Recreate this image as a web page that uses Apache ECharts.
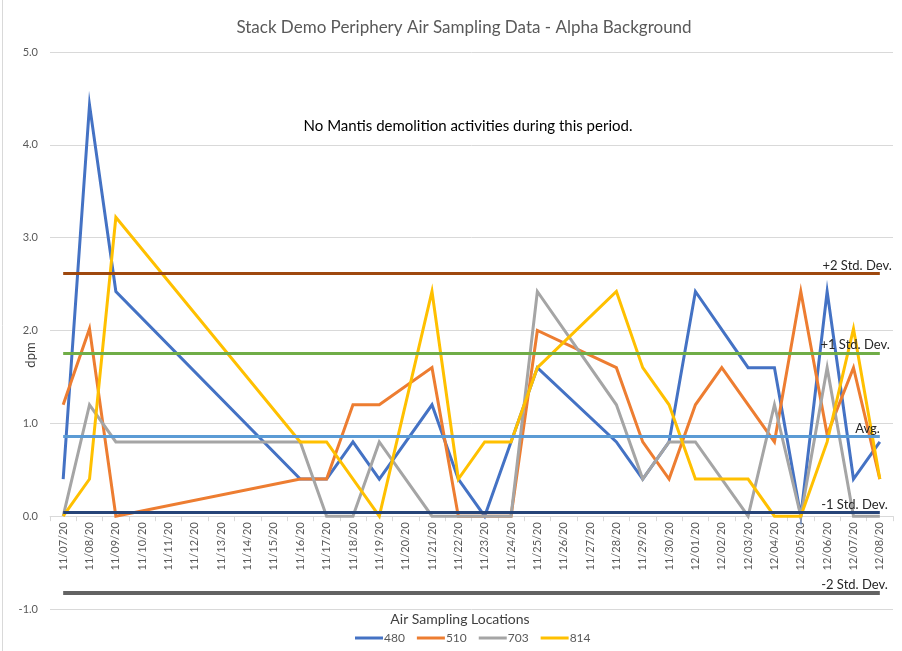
<!DOCTYPE html>
<html>
<head>
<meta charset="utf-8">
<script src="https://cdn.jsdelivr.net/npm/echarts@6/dist/echarts.min.js"></script>
<style>
html,body{margin:0;padding:0;background:#fff;}
#c{width:902px;height:651px;}
</style>
</head>
<body>
<div id="c"></div>
<script>
const categories = ['11/07/20','11/08/20','11/09/20','11/10/20','11/11/20','11/12/20','11/13/20','11/14/20','11/15/20','11/16/20','11/17/20','11/18/20','11/19/20','11/20/20','11/21/20','11/22/20','11/23/20','11/24/20','11/25/20','11/26/20','11/27/20','11/28/20','11/29/20','11/30/20','12/01/20','12/02/20','12/03/20','12/04/20','12/05/20','12/06/20','12/07/20','12/08/20'];
const s480 = [0.4,4.43,2.42,null,null,null,null,null,null,0.4,0.4,0.8,0.4,null,1.2,0.4,0.0,0.8,1.6,null,null,0.8,0.4,0.8,2.42,null,1.6,1.6,0.0,2.42,0.4,0.8];
const s510 = [1.2,2.02,0.0,null,null,null,null,null,null,0.4,0.4,1.2,1.2,null,1.6,0.0,0.0,0.0,2.0,null,null,1.6,0.8,0.4,1.2,1.6,null,0.8,2.42,0.88,1.6,0.4];
const s703 = [0.0,1.2,0.8,null,null,null,null,null,null,0.8,0.0,0.0,0.8,null,0.0,0.0,0.0,0.0,2.42,null,null,1.2,0.4,0.8,0.8,null,0.0,1.2,0.0,1.6,0.0,0.0];
const s814 = [0.0,0.4,3.22,null,null,null,null,null,null,0.8,0.8,null,0.0,null,2.42,0.4,0.8,0.8,1.6,null,null,2.42,1.6,1.2,0.4,0.4,0.4,0.0,0.0,0.8,2.02,0.4];
const seriesNames = ['480','510','703','814'];
const refNames = ['+2 Std. Dev.','+1 Std. Dev.','Avg.','-1 Std. Dev.','-2 Std. Dev.'];
const refValues = [2.62, 1.76, 0.86, 0.04, -0.82];
const yTicks = [-1, 0, 1, 2, 3, 4, 5];

const colors = ['#4472C4','#ED7D31','#A5A5A5','#FFC000'];
const refColors = ['#9E480E','#70AD47','#5B9BD5','#264478','#636363'];
const refWidths = [3,3,3,3,4];
const refLabelDx = [-12,-10,0,-8,-8];
const FONT = 'Lato, "Open Sans", sans-serif';

const GRID_TOP = 52, GRID_BOTTOM = 42, H = 651;
const plotH = H - GRID_TOP - GRID_BOTTOM;
const yMin = yTicks[0], yMax = yTicks[yTicks.length - 1];
const zeroOffset = -plotH * (0 - yMin) / (yMax - yMin);

const dataSets = [s480, s510, s703, s814];
const series = dataSets.map((d, i) => ({
  name: seriesNames[i],
  type: 'line',
  data: d,
  connectNulls: true,
  showSymbol: false,
  symbol: 'none',
  lineStyle: {color: colors[i], width: 3, join: 'miter'},
  itemStyle: {color: colors[i]},
  z: 2
}));

refNames.forEach((n, i) => {
  series.push({
    name: n,
    type: 'line',
    data: [],
    z: 3,
    markLine: {
      silent: true,
      symbol: 'none',
      animation: false,
      lineStyle: {color: refColors[i], width: refWidths[i], type: 'solid'},
      label: {
        show: true,
        position: 'insideEndTop',
        formatter: n,
        color: '#262626',
        fontFamily: FONT,
        fontSize: 13,
        distance: [refLabelDx[i], 1]
      },
      data: [[
        {coord: [categories[0], refValues[i]]},
        {coord: [categories[categories.length - 1], refValues[i]]}
      ]]
    }
  });
});

const chart = echarts.init(document.getElementById('c'));
chart.setOption({
  animation: false,
  backgroundColor: '#fff',
  textStyle: {fontFamily: FONT},
  title: [
    {text: 'Stack Demo Periphery Air Sampling Data - Alpha Background', left: 459, top: 14, textAlign: 'center',
     textStyle: {fontFamily: FONT, fontSize: 17, fontWeight: 'normal', color: '#595959'}},
    {text: 'No Mantis demolition activities during this period.', left: 463, top: 114, textAlign: 'center',
     textStyle: {fontFamily: FONT, fontSize: 15, fontWeight: 'normal', color: '#000'}},
    {text: 'Air Sampling Locations', left: 455, top: 607, textAlign: 'center',
     textStyle: {fontFamily: FONT, fontSize: 14, fontWeight: 'normal', color: '#404040'}}
  ],
  graphic: [
    {type: 'text', x: 31, y: 355, rotation: Math.PI / 2,
     style: {text: 'dpm', fontFamily: FONT, fontSize: 13, fill: '#404040', align: 'center', verticalAlign: 'middle'}},
    {type: 'line', shape: {x1: 2.5, y1: 0, x2: 2.5, y2: 651}, style: {stroke: '#d9d9d9', lineWidth: 1}}
  ],
  legend: {
    data: seriesNames,
    top: 627,
    left: 350,
    icon: 'rect',
    itemWidth: 28,
    itemHeight: 3,
    itemGap: 12,
    textStyle: {fontFamily: FONT, fontSize: 12, color: '#595959', padding: [0,0,0,-4]}
  },
  grid: {left: 50, right: 9, top: GRID_TOP, bottom: GRID_BOTTOM, containLabel: false, outerBoundsMode: 'none'},
  xAxis: {
    type: 'category',
    data: categories,
    boundaryGap: true,
    position: 'bottom',
    offset: zeroOffset,
    axisLine: {onZero: false, lineStyle: {color: '#d9d9d9', width: 1}},
    axisTick: {show: true, length: 5, lineStyle: {color: '#d9d9d9'}},
    axisLabel: {rotate: 90, interval: 0, margin: 6, fontSize: 11, color: '#595959', fontFamily: FONT},
    splitLine: {show: false}
  },
  yAxis: {
    type: 'value',
    min: yMin,
    max: yMax,
    interval: 1,
    axisLine: {show: false},
    axisTick: {show: false},
    axisLabel: {formatter: v => v.toFixed(1), fontSize: 11, color: '#595959', margin: 12, fontFamily: FONT},
    splitLine: {lineStyle: {color: '#d9d9d9', width: 1}}
  },
  series: series
});
</script>
</body>
</html>
